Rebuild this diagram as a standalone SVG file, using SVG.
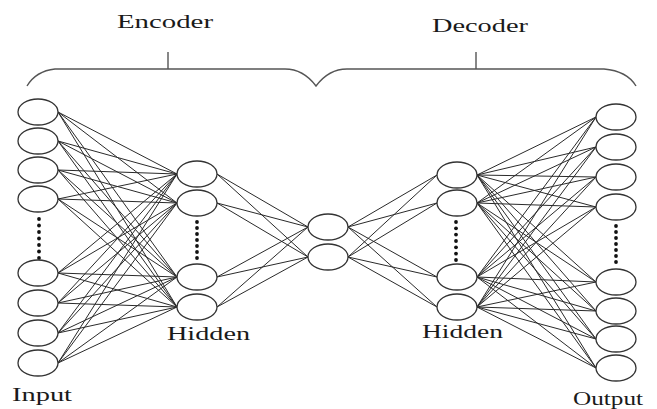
<svg xmlns="http://www.w3.org/2000/svg" width="657" height="409" viewBox="0 0 657 409">
<style>
.n{fill:#fff;stroke:#333;stroke-width:1.3}
.e line{stroke:#2a2a2a;stroke-width:1}
.t{font-family:"Liberation Serif","Times New Roman",serif;font-size:19px;fill:#1a1a1a}
.b{fill:none;stroke:#555;stroke-width:1.4}
.d{fill:#111}
</style>
<rect width="657" height="409" fill="#fff"/>
<g id="brace">
<path class="b" d="M27,86 Q36,71 55,69 L285,69 C300,69 310,78 316,86 C322,78 332,69 347,69 L604,69 Q627,71 636,86"/>
<path class="b" d="M168,52 V69 M476,52 V69"/>
</g>
<text class="t" x="117" y="28" textLength="96" lengthAdjust="spacingAndGlyphs">Encoder</text>
<text class="t" x="432" y="32" textLength="96" lengthAdjust="spacingAndGlyphs">Decoder</text>
<g class="e" id="connectors">
<line x1="58" y1="112" x2="177" y2="174"/><line x1="58" y1="112" x2="177" y2="203"/><line x1="58" y1="112" x2="177" y2="277"/><line x1="58" y1="112" x2="177" y2="307"/>
<line x1="58" y1="141" x2="177" y2="174"/><line x1="58" y1="141" x2="177" y2="203"/><line x1="58" y1="141" x2="177" y2="277"/><line x1="58" y1="141" x2="177" y2="307"/>
<line x1="58" y1="170" x2="177" y2="174"/><line x1="58" y1="170" x2="177" y2="203"/><line x1="58" y1="170" x2="177" y2="277"/><line x1="58" y1="170" x2="177" y2="307"/>
<line x1="58" y1="199" x2="177" y2="174"/><line x1="58" y1="199" x2="177" y2="203"/><line x1="58" y1="199" x2="177" y2="277"/><line x1="58" y1="199" x2="177" y2="307"/>
<line x1="58" y1="273" x2="177" y2="174"/><line x1="58" y1="273" x2="177" y2="203"/><line x1="58" y1="273" x2="177" y2="277"/><line x1="58" y1="273" x2="177" y2="307"/>
<line x1="58" y1="303" x2="177" y2="174"/><line x1="58" y1="303" x2="177" y2="203"/><line x1="58" y1="303" x2="177" y2="277"/><line x1="58" y1="303" x2="177" y2="307"/>
<line x1="58" y1="333" x2="177" y2="174"/><line x1="58" y1="333" x2="177" y2="203"/><line x1="58" y1="333" x2="177" y2="277"/><line x1="58" y1="333" x2="177" y2="307"/>
<line x1="58" y1="363" x2="177" y2="174"/><line x1="58" y1="363" x2="177" y2="203"/><line x1="58" y1="363" x2="177" y2="277"/><line x1="58" y1="363" x2="177" y2="307"/>
<line x1="217" y1="174" x2="308" y2="227"/><line x1="217" y1="174" x2="308" y2="257"/>
<line x1="217" y1="203" x2="308" y2="227"/><line x1="217" y1="203" x2="308" y2="257"/>
<line x1="217" y1="277" x2="308" y2="227"/><line x1="217" y1="277" x2="308" y2="257"/>
<line x1="217" y1="307" x2="308" y2="227"/><line x1="217" y1="307" x2="308" y2="257"/>
<line x1="348" y1="227" x2="437" y2="175"/><line x1="348" y1="227" x2="437" y2="203"/><line x1="348" y1="227" x2="437" y2="277"/><line x1="348" y1="227" x2="437" y2="307"/>
<line x1="348" y1="257" x2="437" y2="175"/><line x1="348" y1="257" x2="437" y2="203"/><line x1="348" y1="257" x2="437" y2="277"/><line x1="348" y1="257" x2="437" y2="307"/>
<line x1="477" y1="175" x2="596" y2="117"/><line x1="477" y1="175" x2="596" y2="147"/><line x1="477" y1="175" x2="596" y2="177"/><line x1="477" y1="175" x2="596" y2="207"/><line x1="477" y1="175" x2="596" y2="282"/><line x1="477" y1="175" x2="596" y2="311"/><line x1="477" y1="175" x2="596" y2="339"/><line x1="477" y1="175" x2="596" y2="368"/>
<line x1="477" y1="203" x2="596" y2="117"/><line x1="477" y1="203" x2="596" y2="147"/><line x1="477" y1="203" x2="596" y2="177"/><line x1="477" y1="203" x2="596" y2="207"/><line x1="477" y1="203" x2="596" y2="282"/><line x1="477" y1="203" x2="596" y2="311"/><line x1="477" y1="203" x2="596" y2="339"/><line x1="477" y1="203" x2="596" y2="368"/>
<line x1="477" y1="277" x2="596" y2="117"/><line x1="477" y1="277" x2="596" y2="147"/><line x1="477" y1="277" x2="596" y2="177"/><line x1="477" y1="277" x2="596" y2="207"/><line x1="477" y1="277" x2="596" y2="282"/><line x1="477" y1="277" x2="596" y2="311"/><line x1="477" y1="277" x2="596" y2="339"/><line x1="477" y1="277" x2="596" y2="368"/>
<line x1="477" y1="307" x2="596" y2="117"/><line x1="477" y1="307" x2="596" y2="147"/><line x1="477" y1="307" x2="596" y2="177"/><line x1="477" y1="307" x2="596" y2="207"/><line x1="477" y1="307" x2="596" y2="282"/><line x1="477" y1="307" x2="596" y2="311"/><line x1="477" y1="307" x2="596" y2="339"/><line x1="477" y1="307" x2="596" y2="368"/>
</g>
<g id="input-layer">
<ellipse class="n" cx="38" cy="112" rx="20" ry="13"/>
<ellipse class="n" cx="38" cy="141" rx="20" ry="13"/>
<ellipse class="n" cx="38" cy="170" rx="20" ry="13"/>
<ellipse class="n" cx="38" cy="199" rx="20" ry="13"/>
<g class="d"><circle cx="39" cy="219" r="1.9"/><circle cx="39" cy="225.5" r="1.9"/><circle cx="39" cy="232" r="1.9"/><circle cx="39" cy="238.5" r="1.9"/><circle cx="39" cy="245" r="1.9"/><circle cx="39" cy="251.5" r="1.9"/><circle cx="39" cy="258" r="1.9"/></g>
<ellipse class="n" cx="38" cy="273" rx="20" ry="13"/>
<ellipse class="n" cx="38" cy="303" rx="20" ry="13"/>
<ellipse class="n" cx="38" cy="333" rx="20" ry="13"/>
<ellipse class="n" cx="38" cy="363" rx="20" ry="13"/>
<text class="t" x="12" y="401" textLength="60" lengthAdjust="spacingAndGlyphs">Input</text>
</g>
<g id="hidden-encoder">
<ellipse class="n" cx="197" cy="174" rx="20" ry="13"/>
<ellipse class="n" cx="197" cy="203" rx="20" ry="13"/>
<g class="d"><circle cx="197" cy="222" r="1.9"/><circle cx="197" cy="228" r="1.9"/><circle cx="197" cy="234" r="1.9"/><circle cx="197" cy="240" r="1.9"/><circle cx="197" cy="246" r="1.9"/><circle cx="197" cy="252" r="1.9"/><circle cx="197" cy="258" r="1.9"/></g>
<ellipse class="n" cx="197" cy="277" rx="20" ry="13"/>
<ellipse class="n" cx="197" cy="307" rx="20" ry="13"/>
<text class="t" x="167" y="340" textLength="83" lengthAdjust="spacingAndGlyphs">Hidden</text>
</g>
<g id="code-layer">
<ellipse class="n" cx="328" cy="227" rx="20" ry="13"/>
<ellipse class="n" cx="328" cy="257" rx="20" ry="13"/>
</g>
<g id="hidden-decoder">
<ellipse class="n" cx="457" cy="175" rx="20" ry="13"/>
<ellipse class="n" cx="457" cy="203" rx="20" ry="13"/>
<g class="d"><circle cx="456" cy="222" r="1.9"/><circle cx="456" cy="228.3" r="1.9"/><circle cx="456" cy="234.6" r="1.9"/><circle cx="456" cy="241" r="1.9"/><circle cx="456" cy="247.3" r="1.9"/><circle cx="456" cy="253.6" r="1.9"/><circle cx="456" cy="260" r="1.9"/></g>
<ellipse class="n" cx="457" cy="277" rx="20" ry="13"/>
<ellipse class="n" cx="457" cy="307" rx="20" ry="13"/>
<text class="t" x="422" y="338" textLength="81" lengthAdjust="spacingAndGlyphs">Hidden</text>
</g>
<g id="output-layer">
<ellipse class="n" cx="616" cy="117" rx="20" ry="13"/>
<ellipse class="n" cx="616" cy="147" rx="20" ry="13"/>
<ellipse class="n" cx="616" cy="177" rx="20" ry="13"/>
<ellipse class="n" cx="616" cy="207" rx="20" ry="13"/>
<g class="d"><circle cx="616" cy="226" r="1.9"/><circle cx="616" cy="232" r="1.9"/><circle cx="616" cy="238" r="1.9"/><circle cx="616" cy="244" r="1.9"/><circle cx="616" cy="250" r="1.9"/><circle cx="616" cy="256" r="1.9"/><circle cx="616" cy="262" r="1.9"/></g>
<ellipse class="n" cx="616" cy="282" rx="20" ry="13"/>
<ellipse class="n" cx="616" cy="311" rx="20" ry="13"/>
<ellipse class="n" cx="616" cy="339" rx="20" ry="13"/>
<ellipse class="n" cx="616" cy="368" rx="20" ry="13"/>
<text class="t" x="573" y="405" textLength="70" lengthAdjust="spacingAndGlyphs">Output</text>
</g>
</svg>
